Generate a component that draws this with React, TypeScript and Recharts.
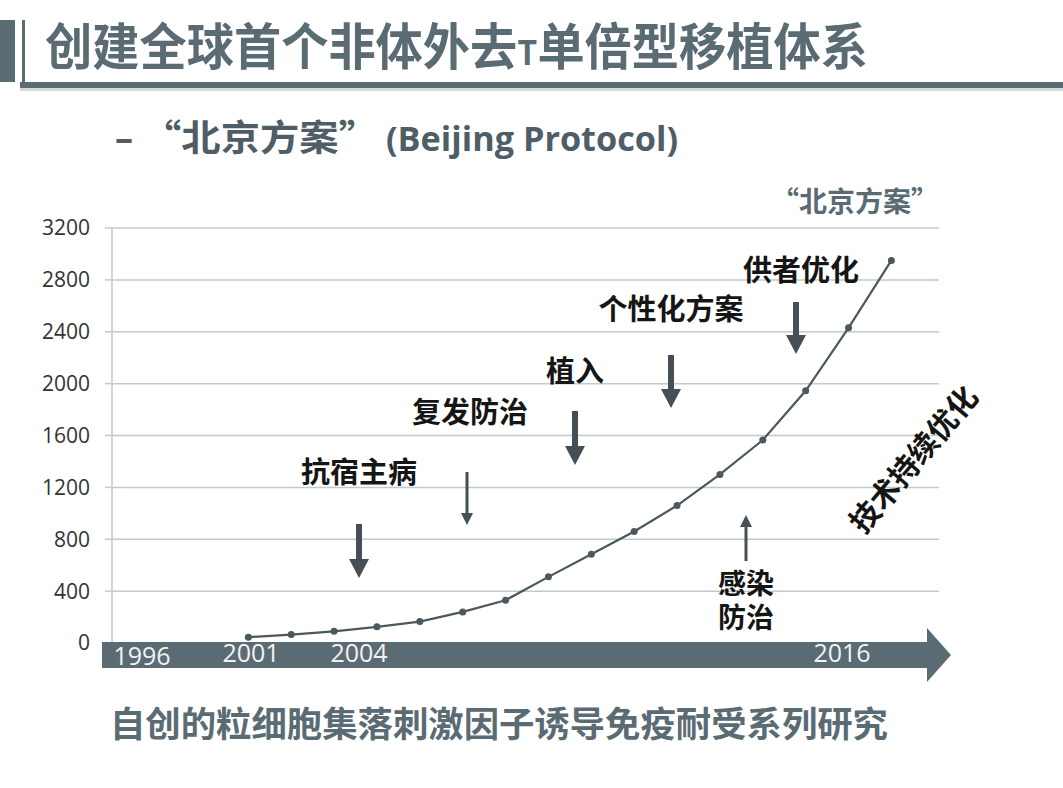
import { LineChart, Line, XAxis, YAxis, CartesianGrid } from "recharts";

// 每年移植例数
const years = [2001, 2002, 2003, 2004, 2005, 2006, 2007, 2008, 2009, 2010, 2011, 2012, 2013, 2014, 2015, 2016];
const cases = [45, 65, 90, 125, 165, 240, 330, 510, 685, 860, 1060, 1300, 1565, 1945, 2430, 2950];
const yTicks = [0, 400, 800, 1200, 1600, 2000, 2400, 2800, 3200];
const bandYears = ["1996", "2001", "2004", "2016"];

const data = years.map((year, i) => ({ year, cases: cases[i] }));

const SLATE = "#5b6b74";
const GRID = "#bfcacf";
const CJK = "'Noto Sans CJK SC', sans-serif";
const LATIN = "'Open Sans', sans-serif";

function Arrow({ x, from, to, thick }: { x: number; from: number; to: number; thick?: boolean }) {
  const shaft = thick ? 6 : 3;
  const headW = thick ? 20 : 12;
  const headH = thick ? 19 : 12;
  const dir = to > from ? 1 : -1;
  const base = to - dir * headH;
  const d = `M${x - shaft / 2},${from} L${x + shaft / 2},${from} L${x + shaft / 2},${base} L${x + headW / 2},${base} L${x},${to} L${x - headW / 2},${base} L${x - shaft / 2},${base} Z`;
  return <path d={d} fill="#454f55" />;
}

function Decor() {
  const bandX = [142, 251, 359, 842];
  const annos: [string, number, number, number][] = [
    ["抗宿主病", 359, 483, 29],
    ["复发防治", 470, 423, 29],
    ["植入", 575, 382, 29],
    ["个性化方案", 671, 320, 29],
    ["供者优化", 801, 281, 29],
    ["感染", 746, 594, 28],
    ["防治", 746, 628, 28],
  ];
  return (
    <svg width={1063} height={788} style={{ position: "absolute", left: 0, top: 0, pointerEvents: "none" }}>
      {/* 标题栏 */}
      <rect x={0} y={20} width={15} height={62} fill={SLATE} />
      <rect x={22} y={20} width={3} height={62} fill={SLATE} />
      <rect x={20} y={82} width={1043} height={6} fill={SLATE} />
      <rect x={20} y={88} width={1043} height={3} fill="#d3d8db" />
      <text x={45} y={65} fontFamily={CJK} fontWeight={700} fontSize={50} fill={SLATE} textLength={823} lengthAdjust="spacingAndGlyphs">
        创建全球首个非体外去<tspan fontSize={34}>T</tspan>单倍型移植体系
      </text>
      <text x={115} y={151} fontFamily={LATIN} fontWeight={700} fontSize={36} fill="#4f5e66">–</text>
      <text x={142} y={151} fontFamily={CJK} fontWeight={700} fontSize={36} fill="#4f5e66" textLength={236} lengthAdjust="spacingAndGlyphs">
        “北京方案”
      </text>
      <text x={386} y={151} fontFamily={LATIN} fontWeight={700} fontSize={34} fill="#4f5e66" textLength={292} lengthAdjust="spacingAndGlyphs">
        (Beijing Protocol)
      </text>
      <text x={855} y={212} textAnchor="middle" fontFamily={CJK} fontWeight={700} fontSize={28} fill={SLATE}>
        “北京方案”
      </text>

      {/* 时间轴箭头 */}
      <path d="M102,642 L927,642 L927,628 L951,655 L927,682 L927,668 L102,668 Z" fill={SLATE} />
      {bandYears.map((t, i) => (
        <text key={t} x={bandX[i]} y={i === 0 ? 665 : 662} textAnchor="middle" fontFamily={LATIN} fontSize={25} fill="#f2f2f2">
          {t}
        </text>
      ))}

      {/* 注释 */}
      {annos.map(([t, x, y, fs]) => (
        <text key={t + y} x={x} y={y} textAnchor="middle" fontFamily={CJK} fontWeight={700} fontSize={fs} fill="#151515">
          {t}
        </text>
      ))}
      <Arrow x={359} from={524} to={578} thick />
      <Arrow x={467} from={472} to={525} />
      <Arrow x={575} from={411} to={465} thick />
      <Arrow x={671} from={355} to={408} thick />
      <Arrow x={796} from={302} to={354} thick />
      <Arrow x={746} from={561} to={515} />
      <text x={912} y={458} transform="rotate(-50 912 458)" textAnchor="middle" dominantBaseline="central" fontFamily={CJK} fontWeight={700} fontSize={30} fill="#151515">
        技术持续优化
      </text>

      <text x={110} y={737} fontFamily={CJK} fontWeight={700} fontSize={35} fill={SLATE} textLength={778} lengthAdjust="spacingAndGlyphs">
        自创的粒细胞集落刺激因子诱导免疫耐受系列研究
      </text>
    </svg>
  );
}

export default function App() {
  return (
    <div style={{ position: "absolute", left: 0, top: 0, width: 1063, height: 788, background: "#fff" }}>
      <LineChart width={1063} height={788} data={data} margin={{ top: 228, right: 124, bottom: 145, left: 42 }}>
        <CartesianGrid vertical={false} stroke={GRID} strokeWidth={1.5} />
        <XAxis dataKey="year" type="number" domain={[1997.82, 2017.11]} allowDataOverflow hide />
        <YAxis
          width={70}
          domain={[0, 3200]}
          ticks={yTicks}
          interval={0}
          axisLine={{ stroke: GRID, strokeWidth: 1.5 }}
          tickLine={{ stroke: GRID, strokeWidth: 1.5 }}
          tickSize={7}
          tickMargin={15}
          tick={{ fill: "#333", fontSize: 21, fontFamily: LATIN }}
        />
        <Line
          type="linear"
          dataKey="cases"
          stroke="#4b585e"
          strokeWidth={2.2}
          dot={{ r: 3.5, fill: "#4b585e", stroke: "none" }}
          isAnimationActive={false}
        />
      </LineChart>
      <Decor />
    </div>
  );
}
